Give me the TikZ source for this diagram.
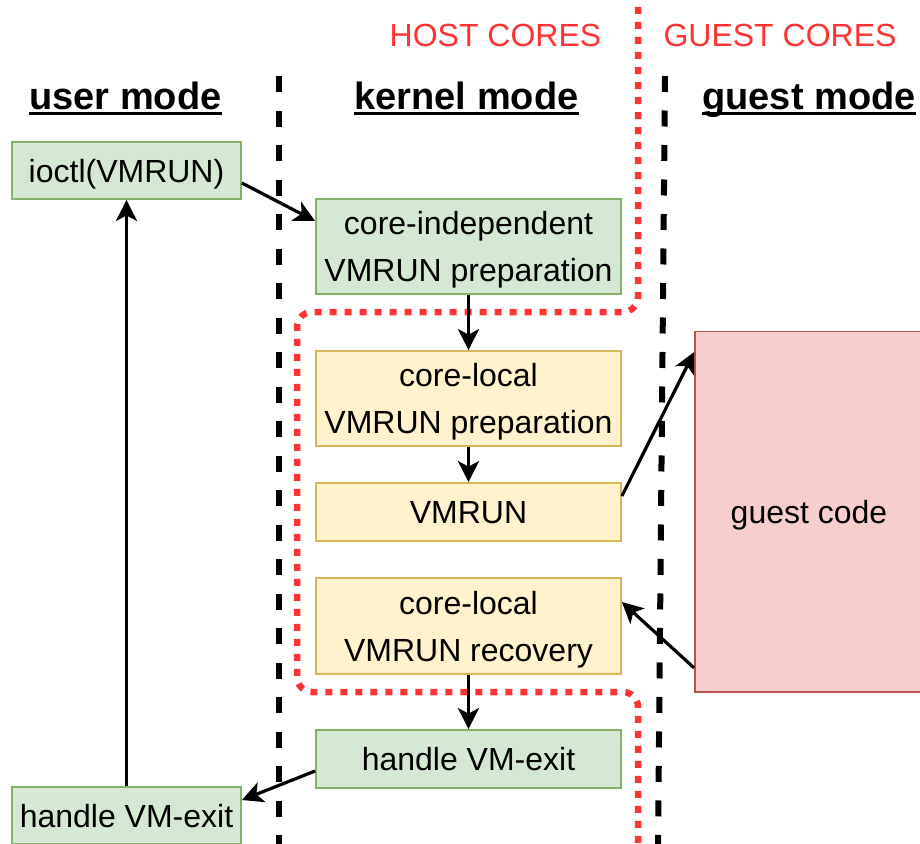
\documentclass[tikz,border=0pt]{standalone}
\usepackage{fontspec}
\setmainfont{Liberation Sans}
\usetikzlibrary{arrows.meta}
\definecolor{gfill}{HTML}{D5E8D4}
\definecolor{gline}{HTML}{82B366}
\definecolor{yfill}{HTML}{FFF2CC}
\definecolor{yline}{HTML}{D6B656}
\definecolor{rfill}{HTML}{F8CECC}
\definecolor{rline}{HTML}{B85450}
\definecolor{redc}{HTML}{FF3333}
\tikzset{
  box/.style={draw, line width=1.8pt, inner sep=0pt, text depth=0pt, align=center,
    font=\fontsize{32}{47}\selectfont},
  gbox/.style={box, fill=gfill, draw=gline},
  ybox/.style={box, fill=yfill, draw=yline},
  rbox/.style={box, fill=rfill, draw=rline},
  hdr/.style={anchor=base, inner sep=0pt, font=\fontsize{38}{45}\selectfont\bfseries},
  cores/.style={anchor=base, inner sep=0pt, text=redc, font=\fontsize{32}{40}\selectfont},
  lane/.style={line width=6pt, dash pattern=on 16pt off 18.5pt},
  hostline/.style={draw=redc, line width=6.5pt, dash pattern=on 7pt off 8pt, rounded corners=15pt},
  conn/.style={line width=3.2pt, -{Stealth[length=21pt, width=21pt, inset=5.5pt]}},
  uline/.style={line width=3pt}
}
\begin{document}
\begin{tikzpicture}[x=1pt, y=-1pt]
\useasboundingbox (0,0) rectangle (920,843);
\clip (0,0) rectangle (920,843);
\fill[white] (0,0) rectangle (920,843);

% lane separators
\coordinate (l1t) at (278.5,76);
\coordinate (l1b) at (278.5,850);
\coordinate (l2t) at (665,76);
\coordinate (l2b) at (658,850);
\draw[lane] (l1t) -- (l1b);
\draw[lane] (l2t) -- (l2b);

% host core boundary
\coordinate (h0) at (638,7);
\coordinate (h1) at (638,312);
\coordinate (h2) at (297,312);
\coordinate (h3) at (297,692);
\coordinate (h4) at (638,692);
\coordinate (h5) at (638,850);
\draw[hostline] (h0) -- (h1) -- (h2) -- (h3) -- (h4) -- (h5);

% labels
\node[cores] (host) at (495.5,46) {HOST CORES};
\node[cores] (guestc) at (780,46) {GUEST CORES};
\node[hdr] (um) at (125.5,109) {user mode};
\node[hdr] (km) at (466.5,109) {kernel mode};
\node[hdr] (gm) at (809,109) {guest mode};
\foreach \h in {um,km,gm}{
  \draw[uline] ([yshift=-4.5pt]\h.base west) -- ([yshift=-4.5pt]\h.base east);
}

% boxes
\node[gbox, minimum width=229pt, minimum height=57pt] (ioctl) at (126.5,170.5) {ioctl(VMRUN)};
\node[gbox, minimum width=305pt, minimum height=95pt] (ci) at (468.5,246.5) {core-independent\\VMRUN preparation};
\node[ybox, minimum width=305pt, minimum height=95pt] (clp) at (468.5,398.5) {core-local\\VMRUN preparation};
\node[ybox, minimum width=305pt, minimum height=58pt] (vmrun) at (468.5,512) {VMRUN};
\node[ybox, minimum width=305pt, minimum height=96pt] (clr) at (468.5,626) {core-local\\VMRUN recovery};
\node[gbox, minimum width=305pt, minimum height=58pt] (hk) at (468.5,759) {handle VM-exit};
\node[gbox, minimum width=229pt, minimum height=57pt] (hu) at (126.5,815.5) {handle VM-exit};
\node[rbox, minimum width=228pt, minimum height=360.5pt] (guest) at (809,511.75) {guest code};

% connectors
\draw[conn] ([yshift=-12.5pt]ioctl.east) -- ([yshift=25.5pt]ci.west);
\draw[conn] (ci.south) -- (clp.north);
\draw[conn] (clp.south) -- (vmrun.north);
\draw[conn] ([yshift=16pt]vmrun.east) -- ([yshift=-21.5pt]guest.north west);
\draw[conn] ([yshift=25pt]guest.south west) -- ([yshift=24pt]clr.east);
\draw[conn] (clr.south) -- (hk.north);
\draw[conn] ([yshift=-12pt]hk.west) -- ([yshift=15.5pt]hu.east);
\draw[conn] (hu.north) -- (ioctl.south);
\end{tikzpicture}
\end{document}
